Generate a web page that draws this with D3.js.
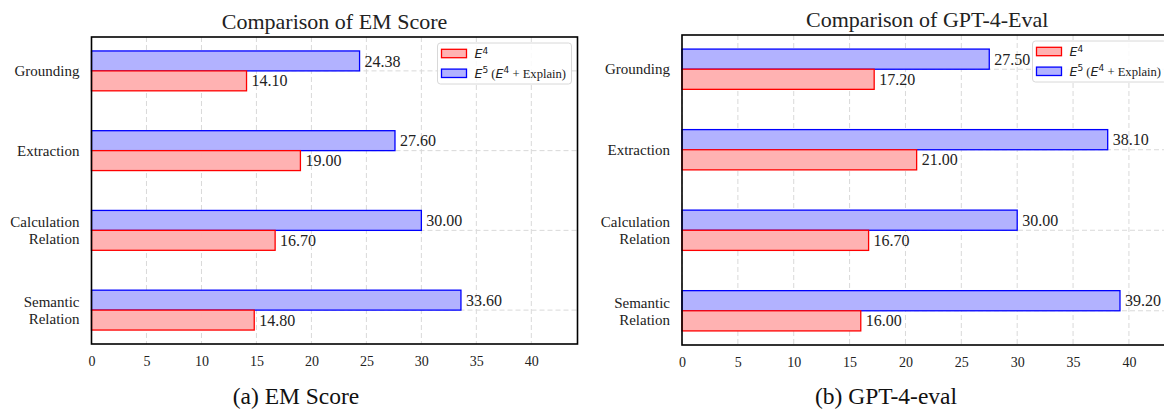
<!DOCTYPE html>
<html>
<head>
<meta charset="utf-8">
<script src="https://cdn.jsdelivr.net/npm/d3@7"></script>
<style>
  body { margin: 0; background: #fff; }
  svg { display: block; }
  .serif { font-family: "Liberation Serif", "Times New Roman", serif; fill: #222; }
</style>
</head>
<body>
<script>
// data
const categories = ["Grounding", "Extraction", "Calculation Relation", "Semantic Relation"];
const emE4 = [14.10, 19.00, 16.70, 14.80];
const emE5 = [24.38, 27.60, 30.00, 33.60];
const gptE4 = [17.20, 21.00, 16.70, 16.00];
const gptE5 = [27.50, 38.10, 30.00, 39.20];
const xTicks = [0, 5, 10, 15, 20, 25, 30, 35, 40];

const W = 1164, H = 412;
let svg = d3.select("body").append("svg")
    .attr("width", W)
    .attr("height", H);

function makePanel(p) {
    let x = d3.scaleLinear().domain([0, p.xmax]).range([p.left, p.right]);
    let y = d3.scaleLinear().domain([-0.425, 3.425]).range([p.top, p.bottom]);
    let g = svg.append("g");

    // grid
    g.append("g").selectAll("line")
        .data(xTicks)
        .enter().append("line")
        .attr("x1", d => x(d)).attr("x2", d => x(d))
        .attr("y1", p.top).attr("y2", p.bottom)
        .style("stroke", "#d9d9d9").style("stroke-width", 1).style("stroke-dasharray", "5,3");
    g.append("g").selectAll("line")
        .data(categories)
        .enter().append("line")
        .attr("x1", p.left).attr("x2", p.right)
        .attr("y1", (d, i) => y(i)).attr("y2", (d, i) => y(i))
        .style("stroke", "#d9d9d9").style("stroke-width", 1).style("stroke-dasharray", "5,3");

    // bars
    let series = [
        {vals: p.e5, off: -0.25, fill: "rgb(178,178,255)", stroke: "#0000ff"},
        {vals: p.e4, off: 0, fill: "rgb(255,178,178)", stroke: "#ff0000"}
    ];
    series.forEach(function (s) {
        g.append("g").selectAll("rect")
            .data(s.vals)
            .enter().append("rect")
            .attr("x", x(0))
            .attr("y", (d, i) => y(i + s.off))
            .attr("width", d => x(d) - x(0))
            .attr("height", y(0.25) - y(0))
            .style("fill", s.fill)
            .style("stroke", s.stroke)
            .style("stroke-width", 1.3);
        g.append("g").selectAll("text")
            .data(s.vals)
            .enter().append("text")
            .attr("class", "serif")
            .attr("x", d => x(d) + 5)
            .attr("y", (d, i) => y(i + s.off + 0.125))
            .attr("dy", "0.35em")
            .style("font-size", "16px")
            .text(d => d.toFixed(2));
    });

    // frame
    g.append("rect")
        .attr("x", p.left).attr("y", p.top)
        .attr("width", p.right - p.left).attr("height", p.bottom - p.top)
        .style("fill", "none").style("stroke", "#000").style("stroke-width", 1.6);

    // x tick labels
    let xAxis = d3.axisBottom(x).tickValues(xTicks).tickSize(0).tickPadding(12);
    let ax = g.append("g").attr("transform", "translate(0," + p.bottom + ")").call(xAxis);
    ax.select(".domain").remove();
    ax.selectAll("text")
        .attr("class", "serif")
        .style("font-size", "14px");

    // category labels
    let yl = g.append("g");
    categories.forEach(function (c, i) {
        let words = c.split(" ");
        let t = yl.append("text")
            .attr("class", "serif")
            .attr("text-anchor", "end")
            .style("font-size", "15px");
        words.forEach(function (w, j) {
            t.append("tspan")
                .attr("x", p.left - 12)
                .attr("y", y(i) + (j - (words.length - 1) / 2) * 17)
                .attr("dy", "0.35em")
                .text(w);
        });
    });

    // title
    g.append("text")
        .attr("class", "serif")
        .attr("x", (p.left + p.right) / 2)
        .attr("y", p.top - 8)
        .attr("text-anchor", "middle")
        .style("font-size", "22px")
        .text(p.title);

    // caption
    g.append("text")
        .attr("class", "serif")
        .attr("x", p.capX)
        .attr("y", 404)
        .attr("text-anchor", "middle")
        .style("font-size", "23.5px")
        .style("fill", "#111")
        .text(p.caption);

    // legend
    let lg = g.append("g").attr("transform", "translate(" + (p.right - 140) + "," + (p.top + 6) + ")");
    lg.append("rect")
        .attr("width", 134).attr("height", 41).attr("rx", 3)
        .style("fill", "#fff").style("fill-opacity", 0.85)
        .style("stroke", "#d8d8d8").style("stroke-width", 1);
    let items = [
        {fill: "rgb(255,178,178)", stroke: "#ff0000", sup: "4", explain: false},
        {fill: "rgb(178,178,255)", stroke: "#0000ff", sup: "5", explain: true}
    ];
    items.forEach(function (it, k) {
        let yy = 10.5 + k * 19.8;
        lg.append("rect")
            .attr("x", 4).attr("y", yy - 4.2)
            .attr("width", 25).attr("height", 8.4)
            .style("fill", it.fill).style("stroke", it.stroke).style("stroke-width", 1.3);
        let t = lg.append("text")
            .attr("x", 37).attr("y", yy + 4.5)
            .style("font-size", "12.6px").style("fill", "#222");
        t.append("tspan").style("font-family", "DejaVu Sans").style("font-style", "italic").text("E");
        t.append("tspan").style("font-family", "DejaVu Sans").style("font-size", "9px").attr("dy", -4.5).text(it.sup);
        if (it.explain) {
            t.append("tspan").attr("class", "serif").attr("dy", 4.5).text(" (");
            t.append("tspan").style("font-family", "DejaVu Sans").style("font-style", "italic").text("E");
            t.append("tspan").style("font-family", "DejaVu Sans").style("font-size", "9px").attr("dy", -4.5).text("4");
            t.append("tspan").attr("class", "serif").attr("dy", 4.5).text(" + Explain)");
        }
    });
}

makePanel({left: 91.5, right: 577.5, top: 37, bottom: 344, xmax: 44.2,
    e4: emE4, e5: emE5, title: "Comparison of EM Score", caption: "(a) EM Score", capX: 296});
makePanel({left: 682, right: 1172.5, top: 35, bottom: 345, xmax: 43.9,
    e4: gptE4, e5: gptE5, title: "Comparison of GPT-4-Eval", caption: "(b) GPT-4-eval", capX: 886});
</script>
</body>
</html>
